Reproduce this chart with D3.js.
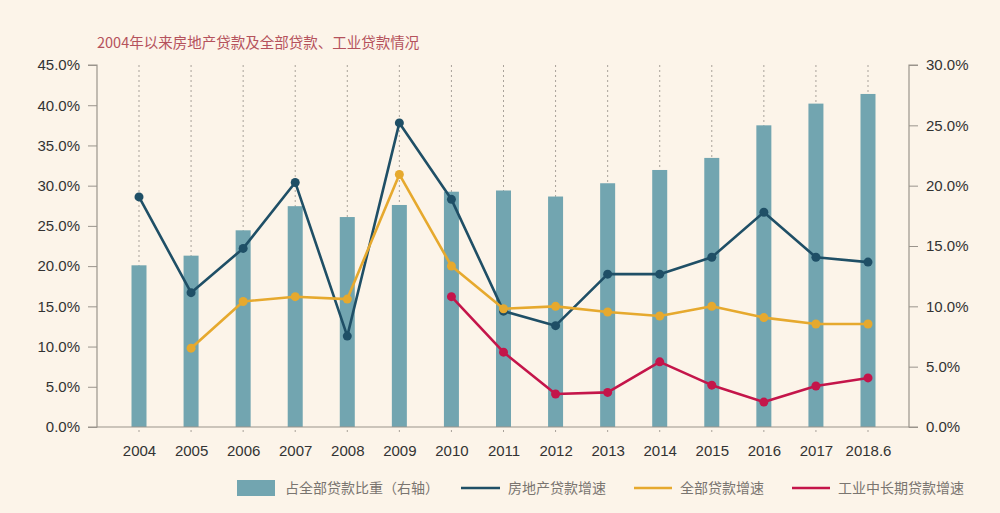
<!DOCTYPE html>
<html>
<head>
<meta charset="utf-8">
<script src="https://cdn.jsdelivr.net/npm/d3@7"></script>
<style>
html,body{margin:0;padding:0;background:#fcf4e9;}
svg{display:block;}
text{font-family:"Liberation Sans","DejaVu Sans",sans-serif;}
.cjk{font-family:"Noto Sans CJK SC","Noto Sans",sans-serif;}
</style>
</head>
<body>
<svg id="chart" width="1000" height="513"></svg>
<script>
const categories = ["2004","2005","2006","2007","2008","2009","2010","2011","2012","2013","2014","2015","2016","2017","2018.6"];
// 占全部贷款比重（右轴）
const shareValues = [13.4,14.2,16.3,18.3,17.4,18.4,19.5,19.6,19.1,20.2,21.3,22.3,25.0,26.8,27.6];
// 房地产贷款增速 (left axis)
const realEstateGrowth = [28.6,16.7,22.2,30.4,11.3,37.8,28.3,14.4,12.6,19.0,19.0,21.1,26.7,21.1,20.5];
// 全部贷款增速
const totalGrowth = [null,9.8,15.6,16.2,15.9,31.4,20.0,14.7,15.0,14.3,13.8,15.0,13.6,12.8,12.8];
// 工业中长期贷款增速
const industrialGrowth = [null,null,null,null,null,null,16.2,9.3,4.1,4.3,8.1,5.2,3.1,5.1,6.1];
const leftTicks = [0,5,10,15,20,25,30,35,40,45];
const rightTicks = [0,5,10,15,20,25,30];
const titleText = "2004年以来房地产贷款及全部贷款、工业贷款情况";
const legendLabels = ["占全部贷款比重（右轴）","房地产贷款增速","全部贷款增速","工业中长期贷款增速"];

const colors = {bar:"#72a5b0", re:"#1f4f66", total:"#e6a92e", ind:"#c4154a"};

const svg = d3.select("#chart");
const pLeft = 97, pRight = 909, pTop = 65, pBottom = 427;

const x = d3.scalePoint().domain(categories).range([139, 868]);
const yL = d3.scaleLinear().domain([0,45]).range([pBottom, pTop]);
const yR = d3.scaleLinear().domain([0,30]).range([pBottom, pTop]);

// title
svg.append("text").attr("class","cjk").attr("x",97).attr("y",48)
  .attr("font-size",14.5).attr("fill","#b5525c").text(titleText);

// vertical dotted gridlines
svg.append("g").selectAll("line").data(categories).join("line")
  .attr("x1",d=>x(d)).attr("x2",d=>x(d)).attr("y1",pTop).attr("y2",pBottom+5)
  .attr("stroke","#a9a29a").attr("stroke-width",1).attr("stroke-dasharray","2,3");

// bars
const bw = 15;
svg.append("g").selectAll("rect").data(categories).join("rect")
  .attr("x",d=>x(d)-bw/2).attr("width",bw)
  .attr("y",(d,i)=>yR(shareValues[i])).attr("height",(d,i)=>pBottom-yR(shareValues[i]))
  .attr("fill",colors.bar);

// axes
const axL = svg.append("g").attr("transform",`translate(${pLeft},0)`)
  .call(d3.axisLeft(yL).tickValues(leftTicks).tickFormat(d=>d.toFixed(1)+"%").tickSize(9).tickPadding(8));
const axR = svg.append("g").attr("transform",`translate(${pRight},0)`)
  .call(d3.axisRight(yR).tickValues(rightTicks).tickFormat(d=>d.toFixed(1)+"%").tickSize(9).tickPadding(8));
[axL,axR].forEach(a=>{
  a.select(".domain").attr("stroke","#9a948c").attr("stroke-width",1.2)
    .attr("d", a===axL ? `M-9,${pTop}H0V${pBottom}H-9` : `M9,${pTop}H0V${pBottom}H9`);
  a.selectAll(".tick line").attr("stroke","#9a948c");
  a.selectAll(".tick text").attr("font-size",15).attr("fill","#333");
});
// x axis
const axX = svg.append("g").attr("transform",`translate(0,${pBottom})`)
  .call(d3.axisBottom(x).tickSize(0).tickPadding(18));
axX.select(".domain").attr("stroke","#9a948c").attr("stroke-width",1.2).attr("d",`M${pLeft},0H${pRight}`);
axX.selectAll(".tick text").attr("font-size",15).attr("fill","#333");

// lines
function drawLine(vals, color){
  const data = categories.map((c,i)=>({c, v:vals[i]})).filter(d=>d.v!=null);
  svg.append("path").datum(data)
    .attr("d", d3.line().x(d=>x(d.c)).y(d=>yL(d.v)))
    .attr("fill","none").attr("stroke",color).attr("stroke-width",2.6).attr("stroke-linejoin","round");
  svg.append("g").selectAll("circle").data(data).join("circle")
    .attr("cx",d=>x(d.c)).attr("cy",d=>yL(d.v)).attr("r",4.5).attr("fill",color);
}
drawLine(realEstateGrowth, colors.re);
drawLine(totalGrowth, colors.total);
drawLine(industrialGrowth, colors.ind);

// legend
const ly = 488;
const lg = svg.append("g");
lg.append("rect").attr("x",237).attr("y",480).attr("width",38).attr("height",16).attr("fill",colors.bar);
lg.append("text").attr("class","cjk").attr("x",285).attr("y",ly).attr("dy","0.35em").attr("font-size",14).attr("fill","#7a7570").text(legendLabels[0]);
const lineItems = [{x1:461,x2:500,tx:508,c:colors.re,t:legendLabels[1]},
                   {x1:634,x2:672,tx:680,c:colors.total,t:legendLabels[2]},
                   {x1:792,x2:830,tx:838,c:colors.ind,t:legendLabels[3]}];
lineItems.forEach(it=>{
  lg.append("line").attr("x1",it.x1).attr("x2",it.x2).attr("y1",ly).attr("y2",ly).attr("stroke",it.c).attr("stroke-width",2.6);
  lg.append("text").attr("class","cjk").attr("x",it.tx).attr("y",ly).attr("dy","0.35em").attr("font-size",14).attr("fill","#7a7570").text(it.t);
});
</script>
</body>
</html>
